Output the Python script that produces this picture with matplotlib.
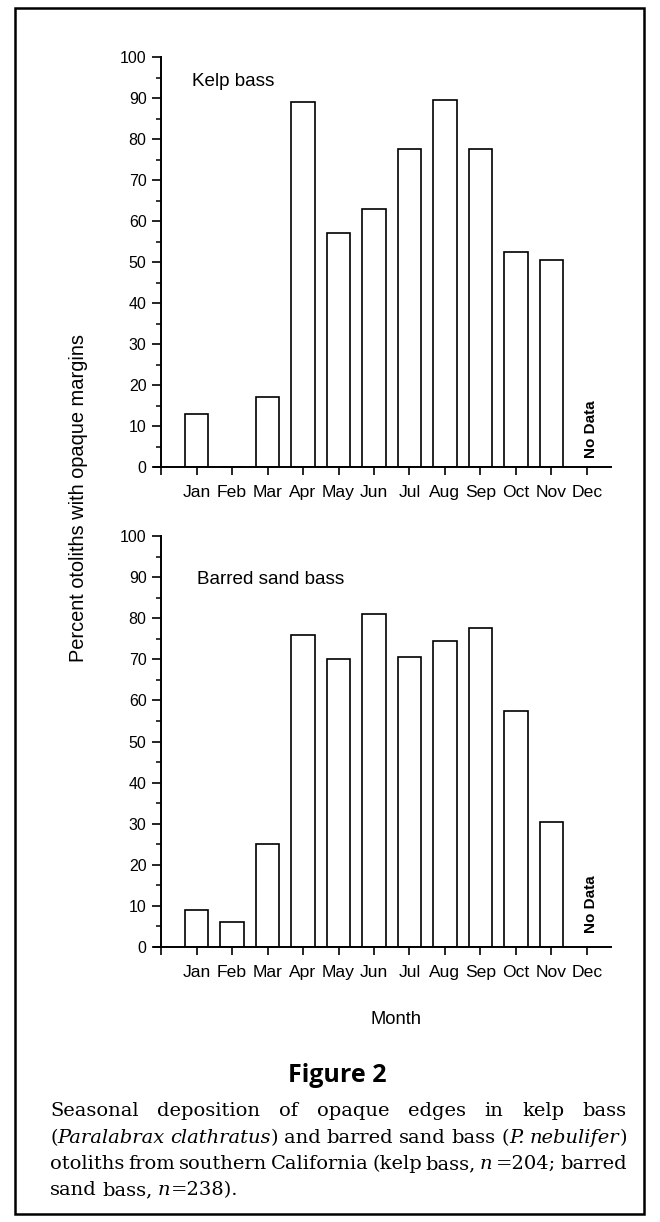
import numpy as np
import matplotlib.pyplot as plt
from matplotlib.patches import Rectangle

# data (percent with opaque margins, Dec = no data)
months = ['Jan', 'Feb', 'Mar', 'Apr', 'May', 'Jun', 'Jul', 'Aug', 'Sep', 'Oct', 'Nov', 'Dec']
kelp_bass = [13, 0, 17, 89, 57, 63, 77.5, 89.5, 77.5, 52.5, 50.5, np.nan]
sand_bass = [9, 6, 25, 76, 70, 81, 70.5, 74.5, 77.5, 57.5, 30.5, np.nan]

W, H = 660, 1222
plt.rcParams['font.family'] = ['Liberation Sans', 'DejaVu Sans']
fig = plt.figure(figsize=(W / 100, H / 100), dpi=100)


def fx(x):
    return x / W


def fy(y):
    return 1 - y / H


def panel(ax, values, label, label_pos, nodata_y):
    vals = np.array(values, dtype=float)
    x = np.arange(1, 13)
    ok = ~np.isnan(vals)
    ax.bar(x[ok], vals[ok], width=0.66, color='white', edgecolor='black', linewidth=1.2, zorder=2)
    ax.set_xlim(-0.2, 12.68)
    ax.set_ylim(0, 100)
    for s in ['top', 'right']:
        ax.spines[s].set_visible(False)
    ax.spines['left'].set_position(('data', 0))
    ax.spines['left'].set_bounds(0, 100)
    ax.spines['left'].set_linewidth(1.4)
    ax.spines['bottom'].set_linewidth(1.4)
    ax.set_xticks(np.arange(0, 13))
    ax.set_xticklabels([''] + months)
    ax.set_yticks(np.arange(0, 101, 10))
    ax.set_yticks(np.arange(5, 100, 10), minor=True)
    ax.tick_params(axis='x', direction='out', length=6, width=1.2, pad=7, labelsize=12.6)
    ax.tick_params(axis='y', which='major', direction='out', length=6.5, width=1.2, pad=4, labelsize=11.5)
    ax.tick_params(axis='y', which='minor', direction='out', length=3.5, width=1.1)
    ax.text(label_pos[0], label_pos[1], label, fontsize=13.6, ha='left', va='center')
    ax.text(12.12, nodata_y, 'No Data', rotation=90, ha='center', va='bottom',
            fontsize=11, fontweight='bold')


ax1 = fig.add_axes([fx(154), fy(467), fx(611) - fx(154), fy(57) - fy(467)])
panel(ax1, kelp_bass, 'Kelp bass', (0.88, 94), 2.2)

ax2 = fig.add_axes([fx(154), fy(947), fx(611) - fx(154), fy(536) - fy(947)])
panel(ax2, sand_bass, 'Barred sand bass', (1.0, 89.5), 3.4)

fig.text(fx(79), fy(498), 'Percent otoliths with opaque margins', rotation=90,
         ha='center', va='center', fontsize=14.4)
fig.text(fx(396), fy(1020), 'Month', ha='center', va='center', fontsize=13.2)

# caption
fig.text(fx(337), fy(1075), 'Figure 2', family='Open Sans', fontweight='bold',
         fontsize=18, ha='center', va='center')

renderer = fig.canvas.get_renderer()
cap_size = 14


def draw_line(words, y, justify=True):
    left, right = 50, 627
    items = []
    for word in words:
        segs = []
        for s, it in word:
            t = fig.text(0, 0, s, family='DejaVu Serif', style='italic' if it else 'normal',
                         fontsize=cap_size, va='baseline', ha='left')
            w = t.get_window_extent(renderer).width
            segs.append((t, w))
        items.append(segs)
    widths = [sum(w for _, w in segs) for segs in items]
    if justify:
        gap = (right - left - sum(widths)) / (len(items) - 1)
    else:
        gap = 5.5
    x = left
    for segs in items:
        for t, w in segs:
            t.set_position((fx(x), fy(y)))
            x += w
        x += gap


def plain(text):
    return [[(w, False)] for w in text.split()]


draw_line(plain('Seasonal deposition of opaque edges in kelp bass'), 1116)
draw_line([[('(', False), ('Paralabrax', True)], [('clathratus', True), (')', False)]]
          + plain('and barred sand bass')
          + [[('(', False), ('P.', True)], [('nebulifer', True), (')', False)]], 1143)
draw_line(plain('otoliths from southern California (kelp bass,')
          + [[('n', True)], [('=204;', False)], [('barred', False)]], 1169)
draw_line(plain('sand bass,') + [[('n', True), ('=238).', False)]], 1195, justify=False)

fig.patches.append(Rectangle((fx(15), fy(1214)), fx(644) - fx(15), fy(8) - fy(1214),
                             transform=fig.transFigure, fill=False, lw=1.8, ec='black'))

fig.savefig('out.png', dpi=100)
